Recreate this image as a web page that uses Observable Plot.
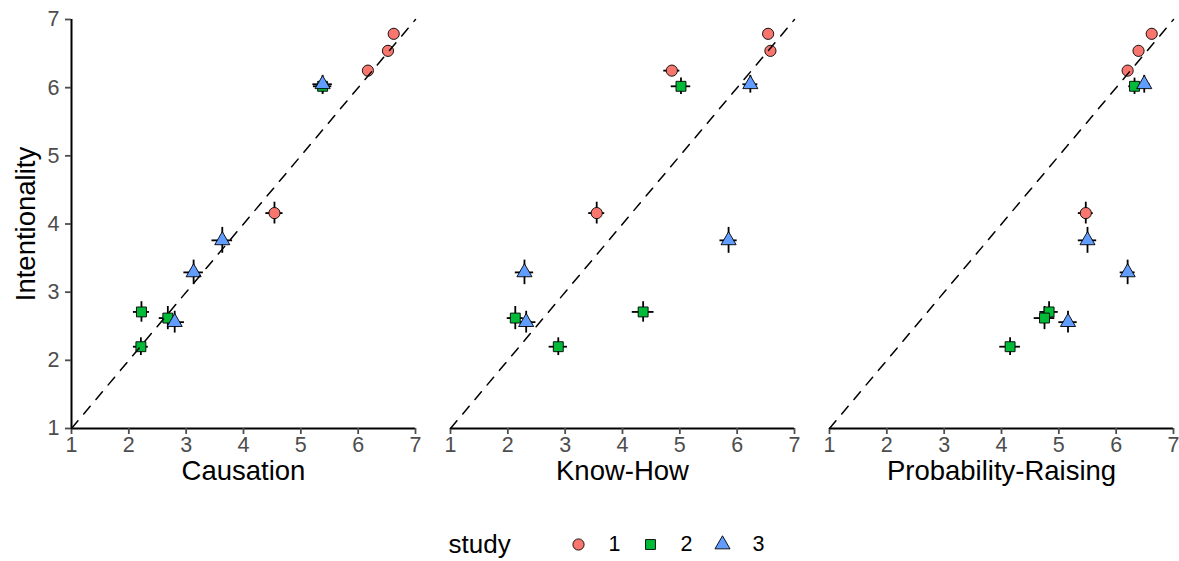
<!DOCTYPE html>
<html><head><meta charset="utf-8">
<script src="https://cdn.jsdelivr.net/npm/d3@7"></script>
<script src="https://cdn.jsdelivr.net/npm/@observablehq/plot@0.6"></script>
<style>body{margin:0;background:#fff;} #chart svg{display:block}</style>
</head><body><div id="chart"></div>
<script>
const measures = ["Causation", "Know-How", "Probability-Raising"];
const studyLevels = ["1", "2", "3"];
const study = ["1","1","1","1", "2","2","2","2", "3","3","3","3"];
const intentionality   = [6.79, 6.54, 6.25, 4.16,  6.02, 2.71, 2.62, 2.20,  6.05, 3.76, 3.29, 2.56];
const intentionalitySE = [0.07, 0.07, 0.07, 0.16,  0.12, 0.15, 0.17, 0.13,  0.13, 0.19, 0.18, 0.16];
const causation   = [6.62, 6.52, 6.17, 4.54,  5.38, 2.22, 2.68, 2.21,  5.38, 3.63, 3.13, 2.80];
const causationSE = [0.07, 0.07, 0.07, 0.15,  0.16, 0.14, 0.15, 0.13,  0.17, 0.18, 0.17, 0.17];
const knowHow   = [6.54, 6.58, 4.86, 3.55,  5.02, 4.36, 2.13, 2.88,  6.23, 5.85, 2.29, 2.32];
const knowHowSE = [0.07, 0.07, 0.14, 0.14,  0.17, 0.19, 0.14, 0.16,  0.13, 0.15, 0.16, 0.17];
const probabilityRaising   = [6.62, 6.39, 6.20, 5.47,  6.32, 4.83, 4.75, 4.15,  6.49, 5.50, 6.20, 5.16];
const probabilityRaisingSE = [0.07, 0.07, 0.07, 0.13,  0.10, 0.16, 0.18, 0.18,  0.10, 0.16, 0.13, 0.16];
const studyColors = ["#F8766D", "#00BA38", "#619CFF"];
const axisTicks = [1, 2, 3, 4, 5, 6, 7];
const identityLine = [1, 7];

const xSeries = [causation, knowHow, probabilityRaising];
const xSeriesSE = [causationSE, knowHowSE, probabilityRaisingSE];
const table = measures.flatMap((m, mi) => study.map((s, i) => ({
  measure: m, study: s,
  x: xSeries[mi][i], xse: xSeriesSE[mi][i],
  y: intentionality[i], yse: intentionalitySE[i]
})));

const rad = (size) => Math.sqrt(size / Math.PI);
const ggCircle = {draw(ctx, size) { const r = rad(size); ctx.moveTo(r, 0); ctx.arc(0, 0, r, 0, 2 * Math.PI); ctx.closePath(); }};
const ggSquare = {draw(ctx, size) { const h = 0.886 * rad(size); ctx.rect(-h, -h, 2 * h, 2 * h); }};
const ggTriangle = {draw(ctx, size) { const r = rad(size); ctx.moveTo(0, -1.555 * r); ctx.lineTo(1.347 * r, 0.778 * r); ctx.lineTo(-1.347 * r, 0.778 * r); ctx.closePath(); }};
const symbols = [ggCircle, ggSquare, ggTriangle];

const font = '"Liberation Sans", Arial, Helvetica, sans-serif';
const fmt = d => String(d);

const chart = Plot.plot({
  width: 1179, height: 515,
  marginLeft: 70, marginRight: 6, marginTop: 19, marginBottom: 87,
  style: {fontFamily: font, fontSize: "21px", background: "white", overflow: "visible"},
  fx: {domain: measures, paddingInner: 0.0935, paddingOuter: 0, axis: null, label: null},
  x: {domain: [1, 7], label: null},
  y: {domain: [1, 7], label: null},
  symbol: {domain: studyLevels, range: symbols},
  color: {domain: studyLevels, range: studyColors},
  marks: [
    Plot.ruleY([1], {stroke: "black", strokeWidth: 2}),
    Plot.ruleX([1], {stroke: "black", strokeWidth: 2, facetAnchor: "left"}),
    Plot.axisX({ticks: axisTicks, tickFormat: fmt, tickSize: 6, tickPadding: 2, fontSize: 21.5, color: "#4D4D4D", strokeWidth: 1.8, label: null}),
    Plot.axisY({ticks: axisTicks, tickFormat: fmt, tickSize: 6, tickPadding: 6, fontSize: 21.5, color: "#4D4D4D", strokeWidth: 1.8, label: null, facetAnchor: "left"}),
    Plot.ruleX(table, {fx: "measure", x: "x", y1: d => d.y - d.yse, y2: d => d.y + d.yse, stroke: "black", strokeWidth: 1.8}),
    Plot.ruleY(table, {fx: "measure", y: "y", x1: d => d.x - d.xse, x2: d => d.x + d.xse, stroke: "black", strokeWidth: 1.8}),
    Plot.dot(table, {fx: "measure", x: "x", y: "y", symbol: "study", fill: "study", stroke: "black", strokeWidth: 0.9, r: 5.6}),
    Plot.line(identityLine, {x: d => d, y: d => d, stroke: "black", strokeWidth: 1.5, strokeDasharray: "10,9"}),
    Plot.text(measures, {fx: d => d, text: d => d, frameAnchor: "bottom", dy: 51, fontSize: 27.5, fill: "black"}),
    Plot.text(["Intentionality"], {frameAnchor: "left", textAnchor: "middle", rotate: -90, dx: -45, fontSize: 27.5, fill: "black", facetAnchor: "left"})
  ]
});

const legend = Plot.plot({
  width: 1179, height: 46, marginTop: 12, marginBottom: 0, marginLeft: 0, marginRight: 0,
  style: {fontFamily: font, fontSize: "21px", background: "white", overflow: "visible"},
  x: {type: "point", padding: 0, domain: studyLevels, range: [577, 722], axis: null},
  symbol: {domain: studyLevels, range: symbols},
  color: {domain: studyLevels, range: studyColors},
  marks: [
    Plot.text(["study"], {frameAnchor: "left", dx: 448, textAnchor: "start", fontSize: 26, fill: "black"}),
    Plot.dot(studyLevels, {x: d => d, symbol: d => d, fill: d => d, stroke: "black", strokeWidth: 0.9, r: 5.6}),
    Plot.text(studyLevels, {x: d => d, text: d => d, dx: 36, fontSize: 21.5, fill: "black"})
  ]
});

const root = document.getElementById("chart");
root.append(chart, legend);
</script>
</body></html>
